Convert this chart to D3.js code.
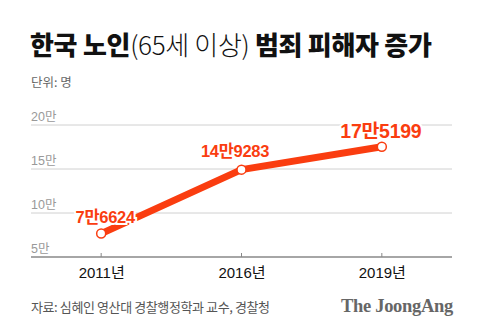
<!DOCTYPE html>
<html>
<head>
<meta charset="utf-8">
<script src="https://cdn.jsdelivr.net/npm/d3@7"></script>
<style>
  html, body { margin: 0; padding: 0; background: #fff; }
  svg { display: block; }
  text { font-family: "Noto Sans CJK KR", "Noto Sans", sans-serif; }
  .num { font-family: "Liberation Sans", "Noto Sans CJK KR", sans-serif; }
  .brand { font-family: "Liberation Serif", "DejaVu Serif", serif; }
</style>
</head>
<body>
<svg id="chart" width="480" height="336"></svg>
<script>
// Elderly (65+) crime victims in Korea, persons
const years = ["2011년", "2016년", "2019년"];
const victims = [76624, 149283, 175199];
const valueLabels = ["7만6624", "14만9283", "17만5199"];
const yTicks = [50000, 100000, 150000, 200000];
const yTickLabels = ["5만", "10만", "15만", "20만"];

const plotLeft = 31, plotRight = 452, plotTop = 125, plotBottom = 257;
const accent = "#fa3d10";

const svg = d3.select("#chart");

const x = d3.scalePoint().domain(years).range([plotLeft, plotRight]).padding(0.5);
const y = d3.scaleLinear().domain([50000, 200000]).range([plotBottom, plotTop]);

// Title
const title = svg.append("text").attr("x", 30).attr("y", 55)
  .attr("font-size", 26).attr("fill", "#111").attr("letter-spacing", -0.3);
title.append("tspan").attr("font-weight", 900).text("한국 노인");
title.append("tspan").attr("font-weight", 300).text("(65세 이상) ");
title.append("tspan").attr("font-weight", 900).text("범죄 피해자 증가");

svg.append("text").attr("x", 31).attr("y", 87)
  .attr("font-size", 12.5).attr("fill", "#666").text("단위: 명");

// Gridlines
svg.append("g").selectAll("line")
  .data(yTicks.filter(v => v !== 50000))
  .join("line")
  .attr("x1", plotLeft).attr("x2", plotRight)
  .attr("y1", d => y(d)).attr("y2", d => y(d))
  .attr("stroke", "#d0d0d0").attr("stroke-width", 1);

// Y tick labels sit above their lines
svg.append("g").selectAll("text")
  .data(yTicks)
  .join("text")
  .attr("class", "num")
  .attr("x", plotLeft).attr("y", d => y(d) - 4)
  .attr("font-size", 12.5).attr("fill", "#999")
  .text((d, i) => yTickLabels[i]);

// X axis
const xAxis = d3.axisBottom(x).tickSize(0).tickPadding(10);
const gx = svg.append("g").attr("transform", `translate(0,${plotBottom})`).call(xAxis);
gx.select(".domain").remove();
gx.selectAll("text").attr("class", "num").attr("font-size", 15).attr("fill", "#111")
  .attr("font-family", null);
svg.append("line").attr("x1", plotLeft).attr("x2", plotRight)
  .attr("y1", plotBottom).attr("y2", plotBottom)
  .attr("stroke", "#888").attr("stroke-width", 1.5);
svg.append("g").selectAll("line").data(years).join("line")
  .attr("x1", d => x(d)).attr("x2", d => x(d))
  .attr("y1", plotBottom - 4).attr("y2", plotBottom)
  .attr("stroke", "#888").attr("stroke-width", 1);

// Series line
const pts = years.map((yr, i) => ({ yr, v: victims[i], label: valueLabels[i] }));
svg.append("path").datum(pts)
  .attr("d", d3.line().x(d => x(d.yr)).y(d => y(d.v)))
  .attr("fill", "none").attr("stroke", accent)
  .attr("stroke-width", 7).attr("stroke-linejoin", "round");

// Value labels with white halo; the latest year is set larger
const labelOffsets = [[4, -11], [-6.5, -13], [-1, -9]];
const labelSizes = [16.5, 16.5, 19.5];
svg.append("g").selectAll("text").data(pts).join("text")
  .attr("class", "num")
  .attr("x", (d, i) => x(d.yr) + labelOffsets[i][0])
  .attr("y", (d, i) => y(d.v) + labelOffsets[i][1])
  .attr("text-anchor", "middle")
  .attr("font-size", (d, i) => labelSizes[i]).attr("font-weight", 700)
  .attr("letter-spacing", -0.3)
  .attr("fill", accent)
  .attr("stroke", "#fff").attr("stroke-width", 4)
  .attr("paint-order", "stroke")
  .text(d => d.label);

// Markers
svg.append("g").selectAll("circle").data(pts).join("circle")
  .attr("cx", d => x(d.yr)).attr("cy", d => y(d.v))
  .attr("r", 4.5).attr("fill", "#fff")
  .attr("stroke", accent).attr("stroke-width", 1.5);

// Footer
svg.append("text").attr("x", 31).attr("y", 312)
  .attr("font-size", 13).attr("fill", "#555").attr("letter-spacing", -0.4)
  .text("자료: 심혜인 영산대 경찰행정학과 교수, 경찰청");
svg.append("text").attr("class", "brand").attr("x", 453).attr("y", 312)
  .attr("text-anchor", "end")
  .attr("font-size", 18.5).attr("font-weight", 700).attr("fill", "#666")
  .attr("letter-spacing", -0.3)
  .text("The JoongAng");
</script>
</body>
</html>
